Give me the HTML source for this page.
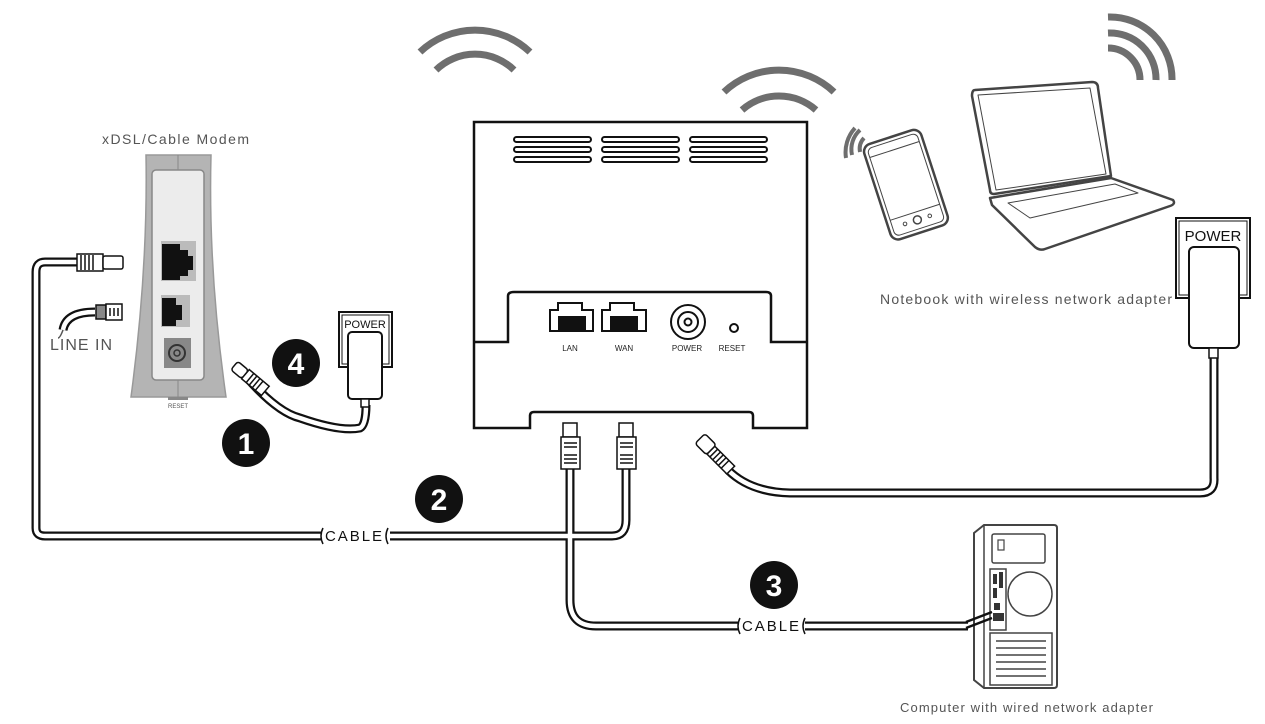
<!DOCTYPE html>
<html><head><meta charset="utf-8"><style>
html,body{margin:0;padding:0;background:#fff;}
svg{display:block;}
text{font-family:"Liberation Sans",sans-serif;}
</style></head><body>
<svg width="1265" height="724" viewBox="0 0 1265 724" xmlns="http://www.w3.org/2000/svg">
<!-- wifi arcs -->
<g fill="none" stroke="#6e6e6e" stroke-width="7" stroke-linecap="butt">
<path d="M420 52 A80 80 0 0 1 530 52"/>
<path d="M436 70 A56 56 0 0 1 514 70"/>
<path d="M724 92 A80 80 0 0 1 834 92"/>
<path d="M742 110 A56 56 0 0 1 816 110"/>
<path d="M1108 17 A62 62 0 0 1 1172 80"/>
<path d="M1108 33 A46 46 0 0 1 1156 80"/>
<path d="M1108 48 A32 32 0 0 1 1140 80"/>
<path d="M852 155 A26 26 0 0 1 860 130" stroke-width="4"/>
<path d="M846 158 A36 36 0 0 1 855 128" stroke-width="4"/>
</g>
<g fill="none" stroke="#6e6e6e" stroke-width="4"><path d="M860 152 A16 16 0 0 1 864 138"/></g>

<!-- Router -->
<path d="M474 122 H807 V428 H753 V416 Q753 412 749 412 H534 Q530 412 530 416 V428 H474 Z" fill="#fff" stroke="#111" stroke-width="2.5"/>
<path d="M474 342 H508 V296 Q508 292 514 292 H766 Q771 292 771 296 V342 H807" fill="none" stroke="#111" stroke-width="2.5"/>
<g fill="none" stroke="#111" stroke-width="2">
<rect x="514" y="137" width="77" height="5" rx="2.5"/><rect x="514" y="147" width="77" height="5" rx="2.5"/><rect x="514" y="157" width="77" height="5" rx="2.5"/>
<rect x="602" y="137" width="77" height="5" rx="2.5"/><rect x="602" y="147" width="77" height="5" rx="2.5"/><rect x="602" y="157" width="77" height="5" rx="2.5"/>
<rect x="690" y="137" width="77" height="5" rx="2.5"/><rect x="690" y="147" width="77" height="5" rx="2.5"/><rect x="690" y="157" width="77" height="5" rx="2.5"/>
</g>
<g stroke="#111" stroke-width="2" fill="#fff">
<path d="M550 310 H558 V303 H582 V310 H593 V331 H550 Z"/>
<path d="M602 310 H610 V303 H634 V310 H646 V331 H602 Z"/>
</g>
<rect x="558" y="316" width="28" height="14" fill="#111"/>
<rect x="610" y="316" width="28" height="14" fill="#111"/>
<g fill="none" stroke="#111" stroke-width="2"><circle cx="688" cy="322" r="17"/><circle cx="688" cy="322" r="10"/><circle cx="688" cy="322" r="3.5"/><circle cx="734" cy="328" r="4"/></g>
<g font-size="8" fill="#222" text-anchor="middle"><text x="570" y="351">LAN</text><text x="624" y="351">WAN</text><text x="687" y="351">POWER</text><text x="732" y="351">RESET</text></g>

<!-- Modem -->
<text x="102" y="144" font-size="14" fill="#555" textLength="147" lengthAdjust="spacing">xDSL/Cable Modem</text>
<path d="M146 155 H211 Q208 270 226 397 H131 Q148 270 146 155 Z" fill="#b4b4b4" stroke="#999" stroke-width="1.5"/>
<rect x="152" y="170" width="52" height="210" rx="4" fill="#ececec" stroke="#888" stroke-width="1.5"/>
<line x1="178" y1="155" x2="178" y2="170" stroke="#888"/><line x1="178" y1="380" x2="178" y2="397" stroke="#888"/>
<rect x="161" y="241" width="35" height="40" fill="#bbb"/>
<path d="M162 244 H180 V250 H188 V256 H193 V270 H188 V276 H180 V280 H162 Z" fill="#111"/>
<rect x="161" y="295" width="29" height="32" fill="#bbb"/>
<path d="M162 298 H176 V305 H182 V320 H176 V326 H162 Z" fill="#111"/>
<rect x="164" y="338" width="27" height="30" fill="#888"/>
<circle cx="177" cy="353" r="8" fill="none" stroke="#333" stroke-width="2"/><circle cx="177" cy="353" r="3" fill="none" stroke="#333" stroke-width="1.5"/>
<text x="178" y="408" font-size="6" fill="#555" text-anchor="middle">RESET</text>
<rect x="168" y="397" width="20" height="3" fill="#888"/>

<!-- cables -->
<g fill="none" stroke-linejoin="round" stroke-linecap="butt">
<g stroke="#111" stroke-width="9">
<path d="M82 262 H45 Q36 262 36 272 V528 Q36 536 45 536 H322"/>
<path d="M390 536 H612 Q626 536 626 520 V465"/>
<path d="M570 465 V600 Q570 626 596 626 H738"/>
<path d="M805 626 H968"/>
<path d="M728 470 Q750 492 790 493 H1200 Q1215 493 1214 478 V350"/>
<path d="M243 373 Q276 412 300 418 Q340 432 360 428 Q366 425 366 405"/>
<path d="M95 312 Q66 312 63 330"/>
</g>
<g stroke="#fff" stroke-width="4.5">
<path d="M82 262 H45 Q36 262 36 272 V528 Q36 536 45 536 H322"/>
<path d="M390 536 H612 Q626 536 626 520 V465"/>
<path d="M570 465 V600 Q570 626 596 626 H738"/>
<path d="M805 626 H968"/>
<path d="M728 470 Q750 492 790 493 H1200 Q1215 493 1214 478 V350"/>
<path d="M243 373 Q276 412 300 418 Q340 432 360 428 Q366 425 366 405"/>
<path d="M95 312 Q66 312 63 330"/>
</g>
</g>
<path d="M63 330 Q60 338 58 338" stroke="#555" stroke-width="1.5" fill="none"/>
<g font-size="15" fill="#111"><text x="325" y="541" textLength="57" lengthAdjust="spacing">CABLE</text><text x="742" y="631" textLength="57" lengthAdjust="spacing">CABLE</text></g>
<g fill="none" stroke="#111" stroke-width="1.5"><path d="M323 528 Q319 536 323 544"/><path d="M388 528 Q384 536 388 544"/><path d="M740 618 Q736 626 740 634"/><path d="M805 618 Q801 626 805 634"/></g>

<g stroke="#111" stroke-width="1.5" fill="#fff">
<rect x="77" y="254" width="26" height="17"/><rect x="103" y="256" width="20" height="13" rx="2"/>
<path d="M81 255 V270 M85 255 V270 M89 255 V270 M93 255 V270" fill="none"/>
<rect x="96" y="305" width="10" height="14" fill="#888"/><rect x="106" y="304" width="16" height="16"/>
<path d="M110 308 V316 M114 308 V316 M118 308 V316" fill="none"/>
</g>
<text x="50" y="350" font-size="16" fill="#555" textLength="62" lengthAdjust="spacing">LINE IN</text>

<g stroke="#111" stroke-width="1.5" fill="#fff">
<rect x="563" y="423" width="14" height="14"/><rect x="561" y="437" width="19" height="32"/>
<rect x="619" y="423" width="14" height="14"/><rect x="617" y="437" width="19" height="32"/>
<path d="M564 443 H577 M564 447 H577 M564 455 H577 M564 459 H577 M564 463 H577 M620 443 H633 M620 447 H633 M620 455 H633 M620 459 H633 M620 463 H633" fill="none"/>
<g transform="rotate(45 712 452)"><rect x="694" y="444" width="16" height="14" rx="3"/><rect x="710" y="446" width="28" height="11"/><path d="M714 446 V457 M718 446 V457 M722 446 V457 M726 446 V457 M730 446 V457" fill="none"/></g>
<g transform="rotate(40 250 378)"><rect x="230" y="373" width="14" height="11" rx="3"/><rect x="244" y="372" width="26" height="12"/><path d="M250 372 V384 M254 372 V384 M258 372 V384 M262 372 V384" fill="none"/></g>
</g>

<rect x="339" y="312" width="53" height="55" fill="#fff" stroke="#111" stroke-width="2"/>
<rect x="342" y="315" width="47" height="49" fill="none" stroke="#111" stroke-width="1"/>
<text x="365" y="328" font-size="11" text-anchor="middle" fill="#111">POWER</text>
<rect x="348" y="332" width="34" height="67" rx="4" fill="#fff" stroke="#111" stroke-width="2"/>
<rect x="361" y="399" width="8" height="8" fill="#fff" stroke="#111" stroke-width="1.5"/>

<rect x="1176" y="218" width="74" height="80" fill="#fff" stroke="#111" stroke-width="2"/>
<rect x="1179" y="221" width="68" height="74" fill="none" stroke="#111" stroke-width="1"/>
<text x="1213" y="241" font-size="15" text-anchor="middle" fill="#111">POWER</text>
<rect x="1189" y="247" width="50" height="101" rx="5" fill="#fff" stroke="#111" stroke-width="2"/>
<rect x="1209" y="348" width="9" height="10" fill="#fff" stroke="#111" stroke-width="1.5"/>

<g font-size="30" font-weight="bold" fill="#fff" text-anchor="middle">
<circle cx="296" cy="363" r="24" fill="#111"/><text x="296" y="374">4</text>
<circle cx="246" cy="443" r="24" fill="#111"/><text x="246" y="454">1</text>
<circle cx="439" cy="499" r="24" fill="#111"/><text x="439" y="510">2</text>
<circle cx="774" cy="585" r="24" fill="#111"/><text x="774" y="596">3</text>
</g>

<g transform="rotate(-18 905 185)" stroke="#444" fill="#fff">
<rect x="876" y="135" width="60" height="100" rx="8" stroke-width="2.5"/>
<rect x="880" y="139" width="52" height="92" rx="5" stroke-width="1"/>
<line x1="880" y1="148" x2="932" y2="148" stroke-width="1"/>
<line x1="880" y1="214" x2="932" y2="214" stroke-width="1"/>
<circle cx="906" cy="222" r="4" stroke-width="1.5"/><circle cx="893" cy="222" r="1.8" stroke-width="1"/><circle cx="919" cy="222" r="1.8" stroke-width="1"/>
</g>

<g stroke="#444" fill="#fff" stroke-linejoin="round">
<path d="M975 90 L1092 82 Q1098 82 1098 88 L1111 176 L994 194 Q990 194 990 190 L972 96 Q972 90 975 90 Z" stroke-width="2.5"/>
<path d="M978 95 L1090 88 L1106 174 L996 190 Z" stroke-width="1"/>
<path d="M990 198 L1111 178 L1173 200 Q1176 204 1170 206 L1045 249 Q1040 251 1035 247 L992 205 Z" stroke-width="2.5"/>
<path d="M1008 203 L1115 184 L1138 193 L1030 218 Z" stroke-width="1"/>
</g>
<text x="880" y="304" font-size="14" fill="#555" textLength="292" lengthAdjust="spacing">Notebook with wireless network adapter</text>

<g stroke="#444" fill="#fff" stroke-width="2">
<path d="M974 533 L984 525 H1054 Q1057 525 1057 528 V685 Q1057 688 1054 688 H984 L974 680 Z"/>
<line x1="984" y1="525" x2="984" y2="688" stroke-width="1.5"/>
<rect x="992" y="534" width="53" height="29" rx="2" stroke-width="1.5"/>
<rect x="990" y="569" width="16" height="61" stroke-width="1.5"/>
<circle cx="1030" cy="594" r="22" stroke-width="1.5"/>
<rect x="990" y="633" width="62" height="52" stroke-width="1.5"/>
<path d="M996 641 H1046 M996 648 H1046 M996 655 H1046 M996 662 H1046 M996 669 H1046 M996 676 H1046" stroke-width="1.5"/>
<rect x="998" y="540" width="6" height="10" stroke-width="1.2"/>
</g>
<g fill="#333"><rect x="993" y="574" width="4" height="10"/><rect x="999" y="572" width="4" height="16"/><rect x="993" y="588" width="4" height="10"/><rect x="994" y="603" width="6" height="7"/><rect x="993" y="613" width="11" height="8"/></g>
<path d="M966 622 L992 612 M966 628 L992 618" stroke="#111" stroke-width="2.5" fill="none"/>
<text x="900" y="712" font-size="13" fill="#555" textLength="253" lengthAdjust="spacing">Computer with wired network adapter</text>
</svg>
</body></html>
